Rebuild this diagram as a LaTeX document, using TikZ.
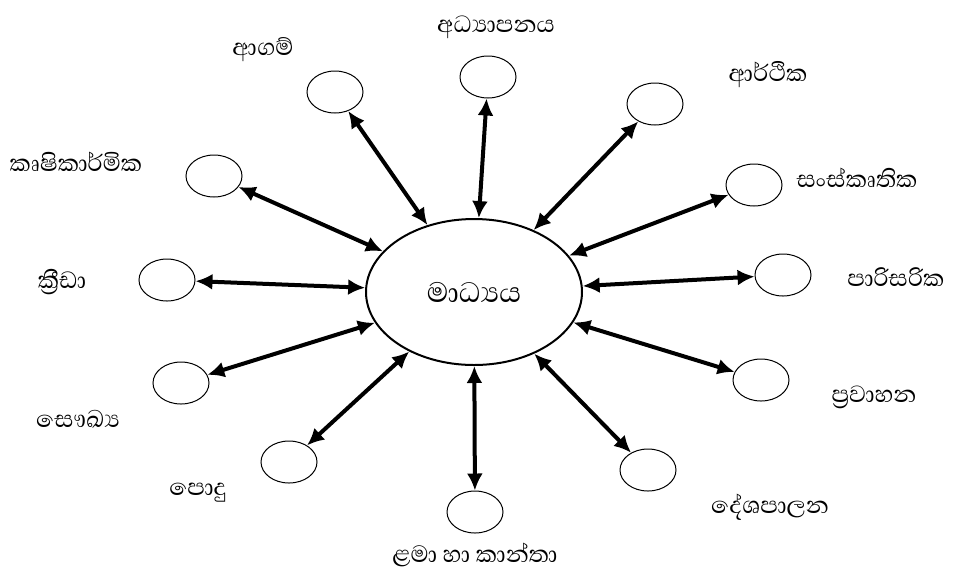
\documentclass[tikz,border=0pt]{standalone}
\usepackage{fontspec}
\newfontfamily\sinhalafont[Script=Sinhala]{Abhaya Libre}
\usetikzlibrary{shapes.geometric, arrows.meta}

\begin{document}
\begin{tikzpicture}[x=0.5pt, y=-0.5pt]
\tikzstyle{bubble}=[ellipse, draw, line width=0.5pt, minimum width=28pt, minimum height=21pt, inner sep=0pt]
\tikzstyle{word}=[font=\sinhalafont\fontsize{15}{17}\selectfont, inner sep=0pt]
\tikzstyle{link}=[{Latex[length=8.5pt,width=8pt]}-{Latex[length=8.5pt,width=8pt]}, line width=2pt]

\useasboundingbox (0,0) rectangle (953,585);

\node[ellipse, draw, line width=1pt, minimum width=108pt, minimum height=73pt, inner sep=0pt,
  font=\sinhalafont\fontsize{18}{20}\selectfont] (madhya) at (474,292) {\raisebox{-9pt}{මාධ්‍යය}};

\foreach \n/\cx/\cy/\tx/\ty/\t in {
  edu/488/77/496/27/{අධ්‍යාපනය},
  econ/655/104/768/75/{ආර්ථික},
  culture/754/185/857/178/{සංස්කෘතික},
  env/783/275/896/277/{පාරිසරික},
  transport/761/380/874/397/{ප්‍රවාහන},
  politics/648/470/770/507/{දේශපාලන},
  women/475/512/475/555/{ළමා හා කාන්තා},
  general/289/462/198/493/{පොදු},
  health/181/383/78/419/{සෞඛ්‍ය},
  sport/167/280/62/282/{ක්‍රීඩා},
  agri/214/176/76/162/{කෘෂිකාර්මික},
  religion/335/92/263/50/{ආගම්}} {
\node[bubble] (\n) at (\cx,\cy) {};
\node[word] (\n-txt) at (\tx,\ty) {\t};
\draw[link] (madhya) -- (\n);
}

\end{tikzpicture}
\end{document}
